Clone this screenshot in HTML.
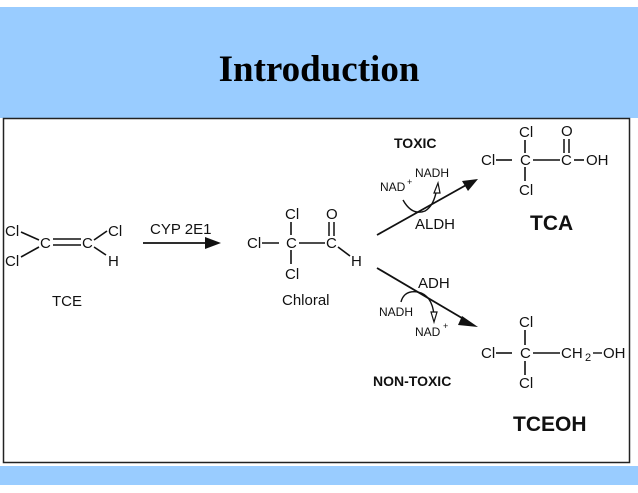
<!DOCTYPE html>
<html><head><meta charset="utf-8"><style>
html,body{margin:0;padding:0;background:#fff;}
svg{display:block;}
text{font-family:"Liberation Sans",Arial,sans-serif;fill:#111;}
</style></head><body>
<svg width="638" height="493" viewBox="0 0 638 493" xmlns="http://www.w3.org/2000/svg">
<rect x="0" y="0" width="638" height="493" fill="#fff"/>
<rect x="0" y="7" width="638" height="111" fill="#99ccff"/>
<rect x="0" y="466" width="638" height="19" fill="#99ccff"/>
<text x="319" y="81" text-anchor="middle" style="font-family:'Liberation Serif',serif;font-weight:bold;font-size:37px;fill:#000">Introduction</text>
<rect x="3.5" y="118.5" width="626" height="344" fill="#fff" stroke="#222" stroke-width="1.5"/>
<g font-size="15">
<!-- TCE -->
<text x="5" y="236">Cl</text>
<text x="5" y="266">Cl</text>
<text x="40" y="248">C</text>
<text x="82" y="248">C</text>
<text x="108" y="236">Cl</text>
<text x="108" y="266">H</text>
<line x1="21" y1="232" x2="39" y2="240" stroke="#111" stroke-width="1.6"/>
<line x1="21" y1="257" x2="39" y2="247" stroke="#111" stroke-width="1.6"/>
<line x1="53" y1="239" x2="81" y2="239" stroke="#111" stroke-width="1.6"/>
<line x1="53" y1="245" x2="81" y2="245" stroke="#111" stroke-width="1.6"/>
<line x1="94" y1="240" x2="107" y2="231" stroke="#111" stroke-width="1.6"/>
<line x1="94" y1="247" x2="106" y2="255" stroke="#111" stroke-width="1.6"/>
<text x="52" y="306">TCE</text>
<!-- CYP arrow -->
<text x="150" y="234">CYP 2E1</text>
<line x1="143" y1="243" x2="210" y2="243" stroke="#111" stroke-width="1.8"/>
<polygon points="221,243 205,237 205,249" fill="#111"/>
<!-- Chloral -->
<text x="247" y="248">Cl</text>
<line x1="262" y1="243" x2="279" y2="243" stroke="#111" stroke-width="1.6"/>
<text x="286" y="248">C</text>
<text x="285" y="219">Cl</text>
<line x1="291" y1="222" x2="291" y2="235" stroke="#111" stroke-width="1.6"/>
<text x="285" y="279">Cl</text>
<line x1="291" y1="250" x2="291" y2="264" stroke="#111" stroke-width="1.6"/>
<line x1="299" y1="243" x2="325" y2="243" stroke="#111" stroke-width="1.6"/>
<text x="326" y="248">C</text>
<text x="326" y="219">O</text>
<line x1="329" y1="222" x2="329" y2="236" stroke="#111" stroke-width="1.5"/>
<line x1="334" y1="222" x2="334" y2="236" stroke="#111" stroke-width="1.5"/>
<line x1="338" y1="247" x2="350" y2="256" stroke="#111" stroke-width="1.6"/>
<text x="351" y="266">H</text>
<text x="282" y="305">Chloral</text>
<!-- upper arrow -->
<text x="394" y="148" font-weight="bold" font-size="14">TOXIC</text>
<line x1="377" y1="235" x2="468" y2="184" stroke="#111" stroke-width="1.8"/>
<polygon points="478,179 462,181 468,191" fill="#111"/>
<text x="380" y="191" font-size="12">NAD</text>
<text x="407" y="185" font-size="9">+</text>
<text x="415" y="177" font-size="12">NADH</text>
<path d="M403,200 Q412,216 425,211 Q434,206 437,188" fill="none" stroke="#111" stroke-width="1.4"/>
<polygon points="438,183 434,193 440,193" fill="#fff" stroke="#111" stroke-width="1.2"/>
<text x="415" y="229">ALDH</text>
<!-- TCA -->
<text x="519" y="137">Cl</text>
<line x1="525" y1="140" x2="525" y2="153" stroke="#111" stroke-width="1.6"/>
<text x="481" y="165">Cl</text>
<line x1="496" y1="160" x2="512" y2="160" stroke="#111" stroke-width="1.6"/>
<text x="520" y="165">C</text>
<line x1="533" y1="160" x2="560" y2="160" stroke="#111" stroke-width="1.6"/>
<text x="561" y="165">C</text>
<text x="561" y="136">O</text>
<line x1="564" y1="139" x2="564" y2="153" stroke="#111" stroke-width="1.5"/>
<line x1="569" y1="139" x2="569" y2="153" stroke="#111" stroke-width="1.5"/>
<line x1="574" y1="160" x2="584" y2="160" stroke="#111" stroke-width="1.6"/>
<text x="586" y="165">OH</text>
<text x="519" y="195">Cl</text>
<line x1="525" y1="167" x2="525" y2="181" stroke="#111" stroke-width="1.6"/>
<text x="530" y="230" font-weight="bold" font-size="21">TCA</text>
<!-- lower arrow -->
<line x1="377" y1="268" x2="467" y2="321" stroke="#111" stroke-width="1.8"/>
<polygon points="478,327 462,316 458,325" fill="#111"/>
<text x="418" y="288">ADH</text>
<text x="379" y="316" font-size="12">NADH</text>
<path d="M401,302 Q404,290 418,292 Q432,295 434,315" fill="none" stroke="#111" stroke-width="1.4"/>
<polygon points="434,322 431,312 437,312" fill="#fff" stroke="#111" stroke-width="1.2"/>
<text x="415" y="336" font-size="12">NAD</text>
<text x="443" y="329" font-size="9">+</text>
<text x="373" y="386" font-weight="bold" font-size="14">NON-TOXIC</text>
<!-- TCEOH -->
<text x="519" y="327">Cl</text>
<line x1="525" y1="330" x2="525" y2="345" stroke="#111" stroke-width="1.6"/>
<text x="481" y="358">Cl</text>
<line x1="496" y1="353" x2="512" y2="353" stroke="#111" stroke-width="1.6"/>
<text x="520" y="358">C</text>
<line x1="533" y1="353" x2="560" y2="353" stroke="#111" stroke-width="1.6"/>
<text x="561" y="358">CH</text>
<text x="585" y="361" font-size="11">2</text>
<line x1="593" y1="353" x2="602" y2="353" stroke="#111" stroke-width="1.4"/>
<text x="603" y="358">OH</text>
<line x1="525" y1="361" x2="525" y2="375" stroke="#111" stroke-width="1.6"/>
<text x="519" y="388">Cl</text>
<text x="513" y="431" font-weight="bold" font-size="21">TCEOH</text>
</g>
</svg>
</body></html>
